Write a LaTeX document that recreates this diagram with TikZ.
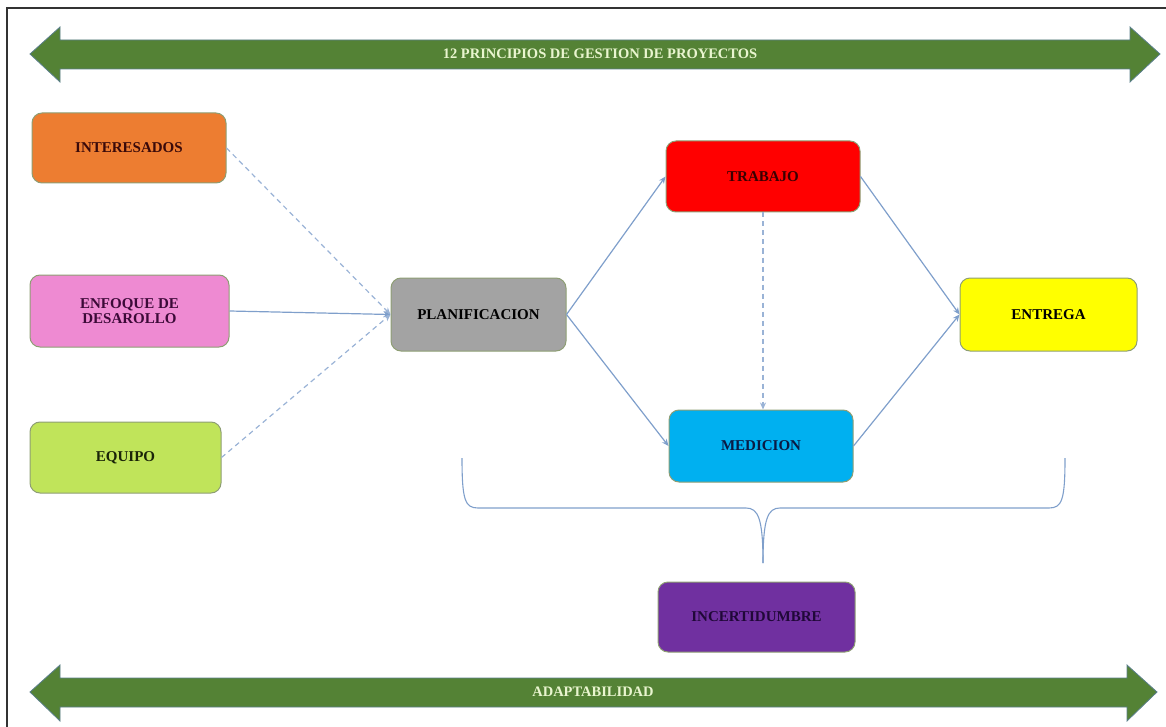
\documentclass[tikz,border=0pt]{standalone}
\usepackage{fontspec}
\setmainfont{Liberation Serif}
\usetikzlibrary{arrows.meta}
\definecolor{bandgreen}{HTML}{548235}
\definecolor{bandedge}{HTML}{5B7F8C}
\definecolor{titletext}{HTML}{E9F5CF}
\definecolor{conn}{HTML}{7F9FCB}
\definecolor{dconn}{HTML}{9AB3D6}
\definecolor{boxedge}{HTML}{8E9E74}
\definecolor{corange}{HTML}{ED7D31}
\definecolor{cpink}{HTML}{EE8AD2}
\definecolor{clime}{HTML}{C0E45A}
\definecolor{cgray}{HTML}{A3A3A3}
\definecolor{cred}{HTML}{FF0000}
\definecolor{ccyan}{HTML}{00B0F0}
\definecolor{cyellow}{HTML}{FFFF00}
\definecolor{cpurple}{HTML}{7030A0}
\definecolor{tbrown}{HTML}{3A0A0A}
\definecolor{tpurple}{HTML}{3C0A38}
\definecolor{tgreen}{HTML}{1A2408}
\definecolor{tred}{HTML}{3A0000}
\definecolor{tnavy}{HTML}{0A1A44}
\definecolor{tviolet}{HTML}{200838}
\tikzset{
  box/.style={draw=boxedge, line width=1pt, rounded corners=10pt, inner sep=0pt,
    align=center, font=\fontsize{15}{15}\selectfont\bfseries},
  link/.style={draw=conn, line width=1.2pt, -{Stealth[length=7pt,width=6pt]}},
  dlink/.style={link, draw=dconn, dash pattern=on 5pt off 4pt},
  band/.style={fill=bandgreen, draw=bandedge, line width=0.8pt},
  bandtext/.style={text=titletext, font=\fontsize{14.5}{15}\selectfont\bfseries, inner sep=0pt},
  brace/.style={draw=conn, line width=1.1pt}
}
\begin{document}
\begin{tikzpicture}[x=1pt,y=-1pt]
\useasboundingbox (0,0) rectangle (1166,727);
% frame
\draw[line width=1.4pt, black!80] (7,727) -- (7,8) -- (1166,8);
% top band arrow
\draw[band] (30,54) -- (60,27) -- (60,40) -- (1130,40) -- (1130,27) -- (1160,54)
  -- (1130,82) -- (1130,69) -- (60,69) -- (60,82) -- cycle;
\node[bandtext] (title) at (600,54) {12 PRINCIPIOS DE GESTION DE PROYECTOS};
% bottom band arrow
\draw[band] (30,692) -- (60,665) -- (60,678) -- (1127,678) -- (1127,665) -- (1157,692)
  -- (1127,721) -- (1127,707) -- (60,707) -- (60,721) -- cycle;
\node[bandtext] (adapt) at (593,692) {ADAPTABILIDAD};
% boxes
\node[box, fill=corange, text=tbrown, minimum width=194pt, minimum height=70pt] (int) at (129,148) {INTERESADOS};
\node[box, fill=cpink, text=tpurple, minimum width=199pt, minimum height=72pt] (enf) at (129.5,311) {ENFOQUE DE\\DESAROLLO};
\node[box, fill=clime, text=tgreen, minimum width=191pt, minimum height=71pt] (equ) at (125.5,457.5) {EQUIPO};
\node[box, fill=cgray, text=black, minimum width=175pt, minimum height=73pt] (plan) at (478.5,314.5) {PLANIFICACION};
\node[box, fill=cred, text=tred, minimum width=194pt, minimum height=71pt] (trab) at (763,176.5) {TRABAJO};
\node[box, fill=ccyan, text=tnavy, minimum width=184pt, minimum height=72pt] (med) at (761,446) {MEDICION};
\node[box, fill=cyellow, text=black, minimum width=177pt, minimum height=73pt] (ent) at (1048.5,314.5) {ENTREGA};
\node[box, fill=cpurple, text=tviolet, minimum width=197pt, minimum height=70pt] (inc) at (756.5,617) {INCERTIDUMBRE};
% connectors
\draw[dlink] (int.east) -- (plan.west);
\draw[link] (enf.east) -- (plan.west);
\draw[dlink] (equ.east) -- (plan.west);
\draw[link] (plan.east) -- (trab.west);
\draw[link] (plan.east) -- (med.west);
\draw[dlink] (trab.south) -- (trab.south |- med.north);
\draw[link] (trab.east) -- (ent.west);
\draw[link] (med.east) -- (ent.west);
% brace
\draw[brace] (462,458) .. controls (462,500) and (465,508) .. (478,508) -- (746,508)
  .. controls (758,508) and (763,518) .. (763,563);
\draw[brace] (1065,458) .. controls (1065,500) and (1062,508) .. (1049,508) -- (780,508)
  .. controls (768,508) and (763,518) .. (763,563);
\end{tikzpicture}
\end{document}
